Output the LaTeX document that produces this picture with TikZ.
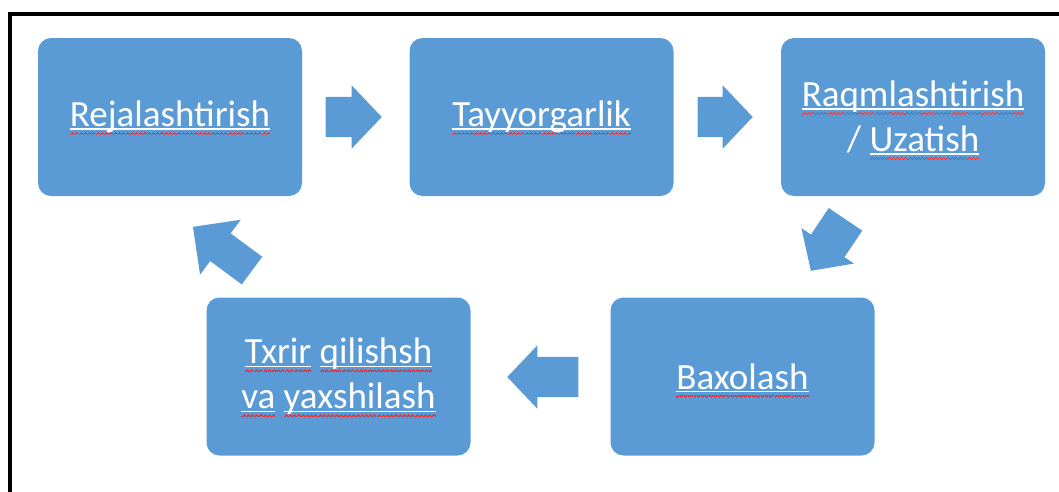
\documentclass[tikz,border=0pt]{standalone}
\usepackage{fontspec}
\setmainfont{Carlito}
\usepackage{tikz}
\usetikzlibrary{positioning, shapes.arrows, calc}
\definecolor{boxblue}{RGB}{91,155,213}
\definecolor{spellred}{RGB}{226,52,58}
\newsavebox\wordbox
% one zigzag step of the spell-check wave
\newcommand\wavebit{\rule[0pt]{1.05pt}{1.5pt}\rule[0.8pt]{1.05pt}{1.5pt}%
  \rule[1.6pt]{1.05pt}{1.5pt}\rule[0.8pt]{1.05pt}{1.5pt}}
% word with white underline and red spell-check wave
\newcommand\spell[1]{\sbox\wordbox{#1}%
  \rlap{\raisebox{-3pt}[0pt][0pt]{\rule{\wd\wordbox}{1.2pt}}}%
  \rlap{\raisebox{-8.5pt}[0pt][0pt]{\color{spellred}\hbox to\wd\wordbox{\xleaders\hbox{\wavebit}\hfil}}}%
  \usebox\wordbox}

\begin{document}
\begin{tikzpicture}[x=1pt, y=-1pt,
    stage/.style={rectangle, rounded corners=13pt, fill=boxblue, text=white,
                  minimum width=264pt, minimum height=158pt, inner sep=0pt,
                  align=center, font=\fontsize{37}{45}\selectfont},
    flow/.style={single arrow, fill=boxblue, inner xsep=0pt, inner ysep=20pt,
                 single arrow head extend=11.5pt, single arrow tip angle=93,
                 anchor=tip}
  ]
  \clip (0,0) rectangle (1059,491);
  % frame
  \draw[line width=4.5pt] (9.8,500) -- (9.8,13.8) -- (1070,13.8);

  % stages
  \node[stage] (plan)  at (170,117)     {\spell{Rejalashtirish}};
  \node[stage] (prep)  at (541.5,117)   {\spell{Tayyorgarlik}};
  \node[stage] (digit) at (913,117)     {\spell{Raqmlashtirish}\\ / \spell{Uzatish}};
  \node[stage] (eval)  at (742.5,376.5) {\spell{Baxolash}};
  \node[stage] (edit)  at (338.5,376.5) {\spell{Txrir} \spell{qilishsh}\\ \spell{va} \spell{yaxshilash}};

  % block arrows (placed by their tips)
  \node[flow, minimum height=56pt] (a1) at (382,117) {};
  \node[flow, minimum height=55pt] (a2) at (753,117) {};
  \node[flow, minimum height=62pt, rotate=236] (a3) at (810.7,271) {};
  \node[flow, minimum height=71pt, rotate=180] (a4) at (507,377) {};
  \node[flow, minimum height=73.5pt, rotate=143.5, inner ysep=17pt,
        single arrow head extend=17pt, single arrow tip angle=90] (a5) at (192.7,226.7) {};
\end{tikzpicture}
\end{document}
